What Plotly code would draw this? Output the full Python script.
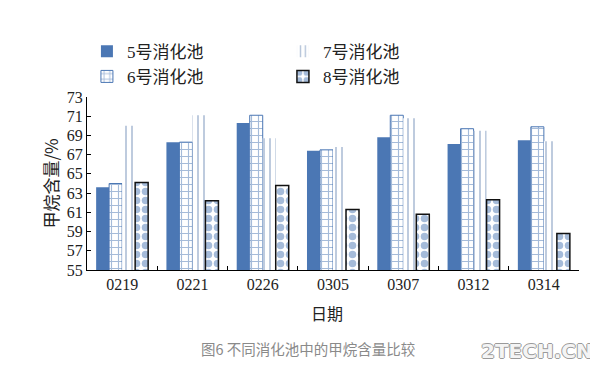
import plotly.graph_objects as go

dates = ["0219", "0221", "0226", "0305", "0307", "0312", "0314"]
tank5 = [63.6, 68.3, 70.3, 67.4, 68.8, 68.1, 68.5]
tank6 = [64.0, 68.3, 71.1, 67.5, 71.1, 69.7, 69.9]
tank7 = [70.0, 71.1, 68.7, 67.8, 70.8, 69.5, 68.4]
tank8 = [64.1, 62.2, 63.8, 61.3, 60.8, 62.3, 58.8]
names = ["5号消化池", "6号消化池", "7号消化池", "8号消化池"]
yticks = list(range(55, 74, 2))

BLUE = "#4b77b4"
LIGHT = "#6f8cb6"
serif_cjk = "Liberation Serif, Noto Sans CJK SC"

fig = go.Figure()
fig.add_trace(go.Bar(x=dates, y=tank5, name=names[0], legendrank=1,
                     marker=dict(color=BLUE, line=dict(width=0))))
fig.add_trace(go.Bar(x=dates, y=tank6, name=names[1], legendrank=3,
                     marker=dict(color="white", line=dict(color=BLUE, width=1),
                                 pattern=dict(shape="+", fgcolor=BLUE, bgcolor="white",
                                              size=7, solidity=0.3))))
fig.add_trace(go.Bar(x=dates, y=tank7, name=names[2], legendrank=2,
                     marker=dict(color="white", line=dict(width=0),
                                 pattern=dict(shape="|", fgcolor=LIGHT, bgcolor="white",
                                              size=6, solidity=0.3))))
fig.add_trace(go.Bar(x=dates, y=tank8, name=names[3], legendrank=4,
                     marker=dict(color="white", line=dict(color="#111111", width=1.5),
                                 pattern=dict(shape=".", fgcolor=BLUE, bgcolor="white",
                                              size=9, solidity=0.55))))

fig.update_layout(
    width=598, height=368,
    margin=dict(l=79, r=27, t=89, b=106, autoexpand=False),
    paper_bgcolor="white", plot_bgcolor="white",
    barmode="group", bargap=0.26, bargroupgap=0,
    showlegend=True,
    legend=dict(orientation="h", xref="container", yref="container",
                x=0.132, y=0.93, xanchor="left", yanchor="top",
                entrywidth=151, entrywidthmode="pixels",
                font=dict(family=serif_cjk, size=17, color="#222"),
                itemwidth=30, traceorder="normal", bgcolor="rgba(0,0,0,0)"),
    font=dict(family=serif_cjk, color="#222"),
)
fig.update_xaxes(
    type="category", showline=True, linecolor="black", linewidth=1,
    ticks="inside", ticklen=4, tickcolor="black", tickson="boundaries",
    tickfont=dict(family="Liberation Serif", size=16, color="#222"),
    showgrid=False, zeroline=False, automargin=False,
)
fig.update_yaxes(
    range=[55, 73], tickvals=yticks, showline=True, linecolor="black", linewidth=1,
    ticks="inside", ticklen=4, tickcolor="black",
    tickfont=dict(family="Liberation Serif", size=16, color="#222"),
    showgrid=False, zeroline=False, automargin=False,
)
fig.add_annotation(text="日期", xref="paper", yref="paper",
                   x=0.488, y=-0.249, xanchor="center", yanchor="middle", showarrow=False,
                   font=dict(family="Noto Sans CJK SC", size=16, color="#222"))
fig.add_annotation(text="甲烷含量/%", xref="paper", yref="paper", textangle=-90,
                   x=-0.075, y=0.5, xanchor="center", yanchor="middle", showarrow=False,
                   font=dict(family="Noto Sans CJK SC", size=17, color="#222"))
fig.add_annotation(text="图6 不同消化池中的甲烷含量比较", xref="paper", yref="paper",
                   x=0.450, y=-0.451, xanchor="center", yanchor="middle", showarrow=False,
                   font=dict(family="Noto Sans CJK SC", size=14.5, color="#8a8a8a"))
fig.add_annotation(text="<b>2TECH.CN</b>", xref="paper", yref="paper",
                   x=1.0325, y=-0.468, xanchor="right", yanchor="middle", showarrow=False,
                   font=dict(family="DejaVu Sans", size=20, color="#f4f4f4",
                             shadow="-1px 0 #9a9a9a, 1px 0 #9a9a9a, 0 1px #9a9a9a, 0 -1px #9a9a9a"))

fig.write_html("out.html")
